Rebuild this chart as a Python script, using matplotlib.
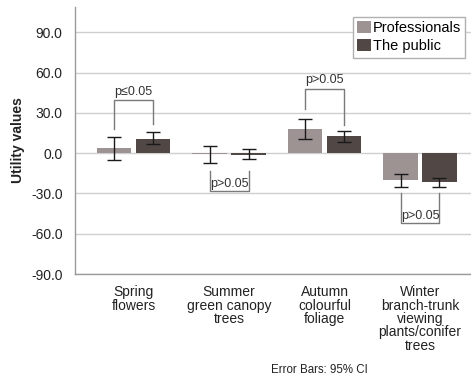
import matplotlib
matplotlib.use("Agg")
import matplotlib.pyplot as plt
import numpy as np
from matplotlib.patches import Patch

plt.rcParams['font.family'] = ['Liberation Sans', 'DejaVu Sans']

categories = ["Spring\nflowers", "Summer\ngreen canopy\ntrees", "Autumn\ncolourful\nfoliage",
              "Winter\nbranch-trunk\nviewing\nplants/conifer\ntrees"]
series_names = ["Professionals", "The public"]
prof_values = [3.7, -0.8, 18.1, -20.1]
prof_ci_low = [-4.7, -7.2, 10.7, -25.3]
prof_ci_high = [12.2, 5.7, 25.8, -15.1]
public_values = [10.7, -1.2, 12.7, -21.6]
public_ci_low = [7.0, -4.2, 8.5, -25.3]
public_ci_high = [15.6, 2.8, 16.9, -18.3]
yticks = [-90, -60, -30, 0, 30, 60, 90]
ytick_labels = ["-90.0", "-60.0", "-30.0", "0.0", "30.0", "60.0", "90.0"]

# significance brackets: label, direction, bracket line level, prof leg end, public leg end
sig_labels = ["p\u22640.05", "p>0.05", "p>0.05", "p>0.05"]
sig_direction = ["up", "down", "up", "down"]
sig_line = [39.4, -28.3, 48.0, -52.3]
sig_prof_end = [18.0, -13.4, 33.0, -29.5]
sig_public_end = [22.0, -13.4, 21.4, -29.5]

W, H = 471, 381
fig = plt.figure(figsize=(W / 100, H / 100), dpi=100)
ax = fig.add_axes([75 / W, (H - 274) / H, (471 - 75) / W, (274 - 7) / H])

x = np.arange(len(categories))
off = 0.204
bw = 0.36
c_prof = "#9d9393"
c_pub = "#514845"

ax.bar(x - off, prof_values, bw, color=c_prof, zorder=2)
ax.bar(x + off, public_values, bw, color=c_pub, zorder=2)

pv = np.array(prof_values); pl = np.array(prof_ci_low); ph = np.array(prof_ci_high)
uv = np.array(public_values); ul = np.array(public_ci_low); uh = np.array(public_ci_high)
ax.errorbar(x - off, pv, yerr=[pv - pl, ph - pv], fmt='none', ecolor='#1a1a1a',
            elinewidth=1.0, capsize=4.7, capthick=1.0, zorder=3)
ax.errorbar(x + off, uv, yerr=[uv - ul, uh - uv], fmt='none', ecolor='#1a1a1a',
            elinewidth=1.0, capsize=4.7, capthick=1.0, zorder=3)

bc = "#7a7a7a"
for i in range(len(categories)):
    xl, xr = x[i] - off, x[i] + off
    ax.plot([xl, xl, xr, xr], [sig_prof_end[i], sig_line[i], sig_line[i], sig_public_end[i]],
            color=bc, lw=1.0, zorder=3)
    if sig_direction[i] == "up":
        ax.text(x[i], sig_line[i] + 2.0, sig_labels[i], ha='center', va='bottom',
                fontsize=9, color='#333333')
    else:
        ax.text(x[i], sig_line[i] + 1.0, sig_labels[i], ha='center', va='bottom',
                fontsize=9, color='#333333')

ax.set_xlim(-0.613, 3.534)
ax.set_ylim(-90, 109)
ax.set_yticks(yticks)
ax.set_yticklabels(ytick_labels)
ax.set_xticks(x)
ax.set_xticklabels(categories, linespacing=0.95)
ax.tick_params(axis='both', length=0, labelsize=10, colors='#222222')
ax.tick_params(axis='y', pad=9)
ax.tick_params(axis='x', pad=8)
ax.yaxis.grid(True, color='#cfcfcf', lw=1.0, zorder=0)
ax.set_axisbelow(True)
for s in ['top', 'right']:
    ax.spines[s].set_visible(False)
for s in ['left', 'bottom']:
    ax.spines[s].set_color('#9a9a9a')
    ax.spines[s].set_linewidth(1.0)

ax.set_ylabel("Utility values", fontsize=10, fontweight='bold', color='#222222')
ax.yaxis.set_label_coords(-(75 - 25) / 396, (274 - 140) / 267)

handles = [Patch(facecolor=c_prof), Patch(facecolor=c_pub)]
leg = ax.legend(handles, series_names, loc='upper left',
                bbox_to_anchor=(353 / W, 1 - 17 / H), bbox_transform=fig.transFigure,
                fontsize=10.5, frameon=True, fancybox=False, handlelength=0.9,
                handleheight=0.9, handletextpad=0.15, borderpad=0.3, labelspacing=0.25,
                borderaxespad=0)
leg.get_frame().set_edgecolor('#b0b0b0')
leg.get_frame().set_linewidth(1.0)
leg.get_frame().set_facecolor('white')
leg.get_frame().set_alpha(1)
leg.set_zorder(5)

fig.text(319 / W, 1 - 370 / H, "Error Bars: 95% CI", ha='center', va='center',
         fontsize=8.3, color='#222222')

fig.savefig("out.png", dpi=100)
